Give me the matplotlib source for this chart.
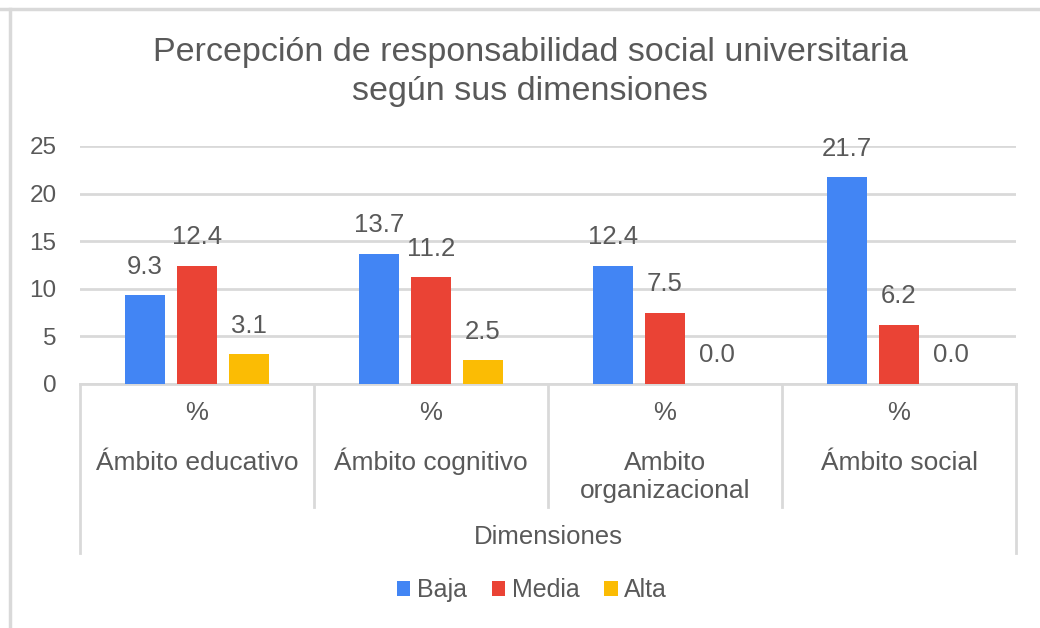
import numpy as np
import matplotlib.pyplot as plt
from matplotlib.lines import Line2D
from matplotlib.transforms import blended_transform_factory

categorias = ['Ámbito educativo', 'Ámbito cognitivo', 'Ambito\norganizacional', 'Ámbito social']
series = ['Baja', 'Media', 'Alta']
baja = [9.3, 13.7, 12.4, 21.7]
media = [12.4, 11.2, 7.5, 6.2]
alta = [3.1, 2.5, 0.0, 0.0]
colores = ['#4285F4', '#EA4335', '#FBBC04']

plt.rcParams['font.family'] = ['Liberation Sans', 'DejaVu Sans']
gris_txt = '#595959'
gris_lin = '#d9d9d9'

W, H = 1040, 628
fig = plt.figure(figsize=(W / 100, H / 100), dpi=100)
ax = fig.add_axes([80 / W, 1 - 384 / H, 936 / W, 238 / H])

x = np.arange(len(categorias))
ancho = 0.172
desp = 0.222
for i, (nombre, vals) in enumerate(zip(series, [baja, media, alta])):
    b = ax.bar(x + (i - 1) * desp, vals, ancho, color=colores[i], label=nombre, zorder=3)
    ax.bar_label(b, fmt='%.1f', padding=12, fontsize=18.5, color=gris_txt)

ax.set_xlim(-0.5, 3.5)
ax.set_ylim(0, 25)
ax.set_yticks([0, 5, 10, 15, 20, 25])
ax.tick_params(axis='y', length=0, labelsize=17.5, labelcolor=gris_txt, pad=17)
ax.set_xticks([])
ax.grid(axis='y', color=gris_lin, linewidth=2, zorder=0)
for s in ['top', 'right', 'left']:
    ax.spines[s].set_visible(False)
ax.spines['bottom'].set_color(gris_lin)
ax.spines['bottom'].set_linewidth(2)

# eje de categorias en dos niveles
tr = blended_transform_factory(ax.transData, fig.transFigure)
def yf(py):
    return 1 - py / H

for k, xb in enumerate(np.arange(-0.5, 4.0, 1.0)):
    fondo = 553 if k in (0, 4) else 507
    ax.add_line(Line2D([xb, xb], [yf(384), yf(fondo)], transform=tr,
                       color=gris_lin, linewidth=2, clip_on=False))

for xi, cat in zip(x, categorias):
    ax.text(xi, yf(420), '%', transform=tr, ha='center', va='baseline',
            fontsize=18.5, color=gris_txt)
    for j, linea in enumerate(cat.split('\n')):
        ax.text(xi, yf(470 + 28 * j), linea, transform=tr, ha='center', va='baseline',
                fontsize=19, color=gris_txt)

ax.text(1.5, yf(537), 'Dimensiones', transform=tr, ha='center', va='center',
        fontsize=18.5, color=gris_txt)

fig.suptitle('Percepción de responsabilidad social universitaria\nsegún sus dimensiones',
             x=530 / W, y=yf(72), va='center', fontsize=24.5, color=gris_txt, linespacing=1.35)

fig.legend(loc='center', bbox_to_anchor=(532 / W, yf(590)), ncol=3, frameon=False,
           fontsize=18, handlelength=0.55, handleheight=0.55, handletextpad=0.25,
           columnspacing=1.0, labelcolor=gris_txt)

# borde de la imagen
fig.add_artist(Line2D([0, 1], [yf(9), yf(9)], color=gris_lin, linewidth=2.5))
fig.add_artist(Line2D([10 / W, 10 / W], [0, yf(9)], color=gris_lin, linewidth=2.5))

fig.savefig('out.png', dpi=100)
